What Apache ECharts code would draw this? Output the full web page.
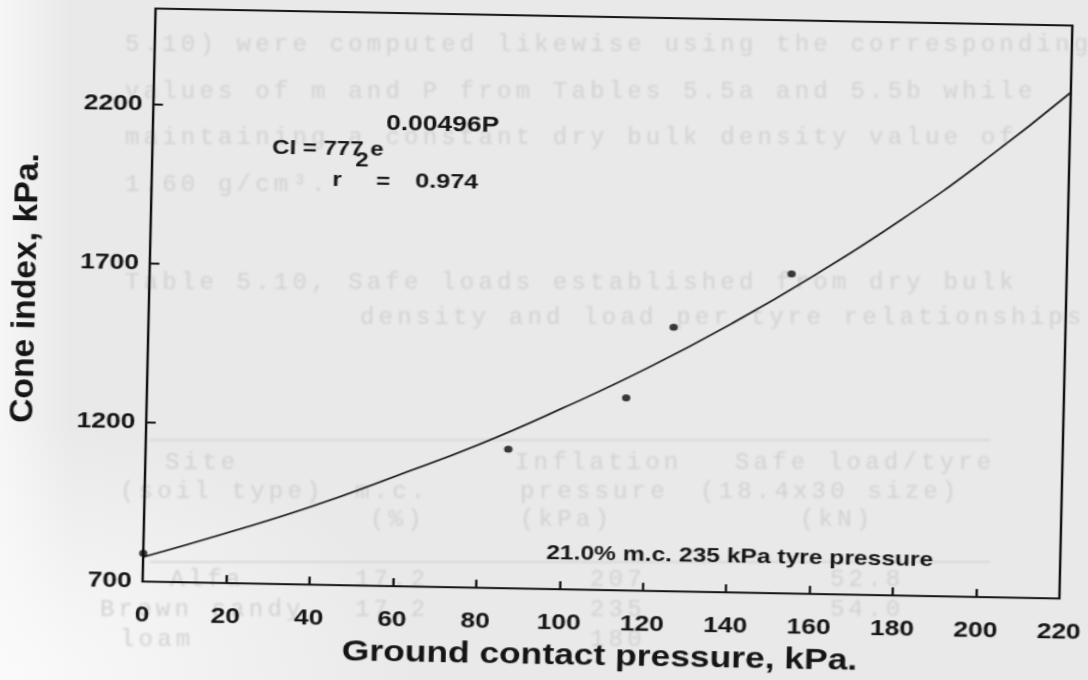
<!DOCTYPE html>
<html>
<head>
<meta charset="utf-8">
<script src="https://cdn.jsdelivr.net/npm/echarts@6/dist/echarts.min.js"></script>
<style>
  html, body { margin:0; padding:0; width:1088px; height:680px; overflow:hidden; }
  body { background:#e9e9e9; position:relative; }
  #shade { position:absolute; left:0; top:0; width:1088px; height:680px;
    background: radial-gradient(ellipse 420px 260px at 0% 100%, #fafafa 0%, rgba(233,233,233,0) 100%),
                linear-gradient(to right, #f6f6f6 0px, rgba(233,233,233,0) 70px); }
  #bleed { position:absolute; left:0; top:0; width:1088px; height:680px; filter: blur(0.8px); }
  #bleed div { position:absolute; white-space:pre; font-family:"Liberation Mono","DejaVu Sans Mono",monospace;
    font-size:24px; letter-spacing:4.2px; color:#d2d2d2; transform:translateY(-50%); line-height:1; }
  #bleed .rule { height:2px; background:#d8d8d8; transform:none; }
  #c { position:absolute; left:0; top:0; width:930px; height:680px;
       transform-origin:0 0; transform:matrix(1.2, 0.02225, -0.02265, 1, 0, -14.39); }
</style>
</head>
<body>
<div id="shade"></div>
<div id="bleed">
  <div style="left:125px;top:45px">5.10) were computed likewise using the corresponding</div>
  <div style="left:125px;top:92px">values of m and P from Tables 5.5a and 5.5b while</div>
  <div style="left:125px;top:138px">maintaining a constant dry bulk density value of</div>
  <div style="left:125px;top:185px">1.60 g/cm³.</div>
  <div style="left:125px;top:283px">Table 5.10, Safe loads established from dry bulk</div>
  <div style="left:360px;top:318px">density and load per tyre relationships</div>
  <div class="rule" style="left:150px;top:439px;width:840px"></div>
  <div style="left:165px;top:463px">Site</div>
  <div style="left:515px;top:463px">Inflation</div>
  <div style="left:735px;top:463px">Safe load/tyre</div>
  <div style="left:120px;top:492px">(soil type)</div>
  <div style="left:355px;top:492px">m.c.</div>
  <div style="left:520px;top:492px">pressure</div>
  <div style="left:700px;top:492px">(18.4x30 size)</div>
  <div style="left:370px;top:520px">(%)</div>
  <div style="left:520px;top:520px">(kPa)</div>
  <div style="left:800px;top:520px">(kN)</div>
  <div class="rule" style="left:150px;top:561px;width:840px"></div>
  <div style="left:170px;top:580px">Alfa</div>
  <div style="left:355px;top:580px">17.2</div>
  <div style="left:590px;top:580px">207</div>
  <div style="left:830px;top:580px">52.8</div>
  <div style="left:100px;top:610px">Brown sandy</div>
  <div style="left:355px;top:610px">17.2</div>
  <div style="left:590px;top:610px">235</div>
  <div style="left:830px;top:610px">54.0</div>
  <div style="left:120px;top:640px">loam</div>
  <div style="left:590px;top:640px">180</div>
</div>
<div id="c"></div>
<script>
// ---- data ----
const xTicks = [0, 20, 40, 60, 80, 100, 120, 140, 160, 180, 200, 220];
const yTicks = [700, 1200, 1700, 2200];
// observed points: ground contact pressure (kPa) vs cone index (kPa)
const obsP  = [0, 87, 115, 126, 154];
const obsCI = [789, 1137, 1305, 1529, 1704];
// fitted curve read along its length
const fitP  = [0, 20, 40, 60, 80, 100, 120, 140, 160, 180, 200, 220];
const fitCI = [777, 858, 945, 1045, 1150, 1270, 1400, 1545, 1705, 1880, 2075, 2290];
const xTitle = 'Ground contact pressure, kPa.';
const yTitle = 'Cone index, kPa.';

const FF = '"Liberation Sans", Arial, Helvetica, sans-serif';
const INK = '#141414';

const chart = echarts.init(document.getElementById('c'), null, {renderer: 'canvas'});
const opt = {
  backgroundColor: 'transparent',
  animation: false,
  grid: { left: 130, top: 20, width: 764, height: 574, show: true,
          borderColor: INK, borderWidth: 2, backgroundColor: 'transparent' },
  xAxis: {
    type: 'value', min: 0, max: 220, interval: 20,
    axisLine: { show: true, lineStyle: { color: INK, width: 2 } },
    axisTick: { show: true, inside: true, length: 8, lineStyle: { color: INK, width: 2 },
                customValues: xTicks },
    axisLabel: { show: true, margin: 23, color: INK, fontFamily: FF, fontWeight: 'bold', fontSize: 22,
                 customValues: xTicks, formatter: v => String(v) },
    splitLine: { show: false },
    name: xTitle, nameLocation: 'middle', nameGap: 52,
    nameTextStyle: { color: INK, fontFamily: FF, fontWeight: 'bold', fontSize: 29.5 }
  },
  yAxis: {
    type: 'value', min: 700, max: 2500, interval: 500,
    axisLine: { show: true, lineStyle: { color: INK, width: 2 } },
    axisTick: { show: true, inside: true, length: 8, lineStyle: { color: INK, width: 2 },
                customValues: yTicks },
    axisLabel: { show: true, margin: 9, color: INK, fontFamily: FF, fontWeight: 'bold', fontSize: 22,
                 customValues: yTicks, formatter: v => String(v) },
    splitLine: { show: false }
  },
  graphic: [
    { type: 'text', x: 229.7, y: 157.3,
      style: { text: 'CI = 777 e', font: 'bold 20px ' + FF, fill: INK, textAlign: 'left', textVerticalAlign: 'middle' } },
    { type: 'text', x: 324.2, y: 131.2,
      style: { text: '0.00496P', font: 'bold 22px ' + FF, fill: INK, textAlign: 'left', textVerticalAlign: 'middle' } },
    { type: 'text', x: 304.9, y: 168.6,
      style: { text: '2', font: 'bold 20px ' + FF, fill: INK, textAlign: 'center', textVerticalAlign: 'middle' } },
    { type: 'text', x: 284.5, y: 188.5,
      style: { text: 'r', font: 'bold 20px ' + FF, fill: INK, textAlign: 'center', textVerticalAlign: 'middle' } },
    { type: 'text', x: 322.8, y: 189.5,
      style: { text: '=', font: 'bold 20px ' + FF, fill: INK, textAlign: 'center', textVerticalAlign: 'middle' } },
    { type: 'text', x: 349.5, y: 188.6,
      style: { text: '0.974', font: 'bold 21px ' + FF, fill: INK, textAlign: 'left', textVerticalAlign: 'middle' } },
    { type: 'text', x: 465.7, y: 557.0,
      style: { text: '21.0% m.c. 235 kPa tyre pressure', font: 'bold 20.5px ' + FF, fill: INK,
               textAlign: 'left', textVerticalAlign: 'middle' } },
    { type: 'text', x: 27.6, y: 301.8, rotation: Math.PI / 2, scaleX: 1.25,
      style: { text: yTitle, font: 'bold 27px ' + FF, fill: INK, textAlign: 'center', textVerticalAlign: 'middle' } }
  ],
  series: [
    { type: 'line', data: fitP.map((p, i) => [p, fitCI[i]]), smooth: true, symbol: 'none',
      lineStyle: { color: INK, width: 1.6 }, z: 3 },
    { type: 'scatter', data: obsP.map((p, i) => [p, obsCI[i]]), symbol: 'circle', symbolSize: 7,
      itemStyle: { color: '#0a0a0a' }, z: 4 }
  ]
};
chart.setOption(opt);
</script>
</body>
</html>
